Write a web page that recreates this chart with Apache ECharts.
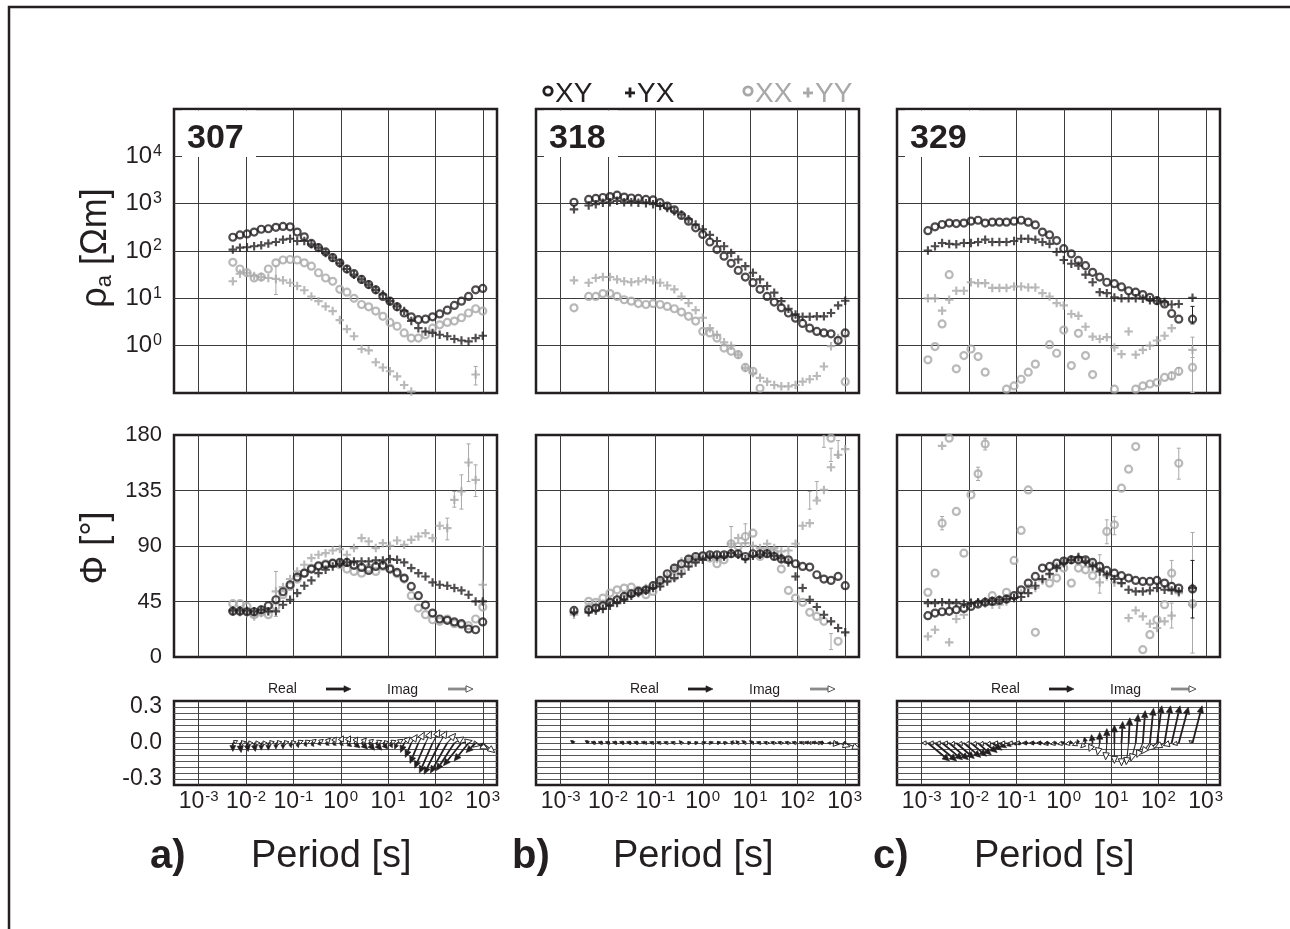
<!DOCTYPE html>
<html><head><meta charset="utf-8">
<script src="https://cdn.jsdelivr.net/npm/echarts@6/dist/echarts.min.js"></script>
<style>html,body{margin:0;padding:0;background:#fff}#c{width:1290px;height:929px}</style>
</head><body><div id="c"></div>
<script>
// ---------------- DATA (log10 of period in s; log10 of rho in Ohm.m; phase in degrees) ----------------
const stations = ['307', '318', '329'];
const panelLetters = ['a)', 'b)', 'c)'];
const rhoTickExps = [0, 1, 2, 3, 4];
const periodTickExps = [-3, -2, -1, 0, 1, 2, 3];
const phaseTicks = [0, 45, 90, 135, 180];
const tipperTickLabels = ['0.3', '0.0', '-0.3'];

// Station 307
const logT307 = [-2.28,-2.13,-1.98,-1.83,-1.68,-1.53,-1.37,-1.22,-1.07,-0.92,-0.77,-0.62,-0.47,-0.32,-0.17,-0.02,0.13,0.28,0.44,0.59,0.74,0.89,1.04,1.19,1.34,1.49,1.64,1.79,1.94,2.09,2.25,2.40,2.55,2.70,2.85,3.00];
const rhoXY307 = [2.29,2.34,2.36,2.40,2.46,2.47,2.50,2.52,2.51,2.40,2.30,2.16,2.07,1.98,1.86,1.75,1.62,1.52,1.40,1.29,1.18,1.04,0.94,0.82,0.69,0.61,0.55,0.56,0.61,0.67,0.75,0.85,0.94,1.04,1.18,1.21];
const rhoYX307 = [2.03,2.07,2.08,2.10,2.12,2.16,2.19,2.24,2.26,2.21,2.21,2.14,2.07,1.96,1.86,1.74,1.62,1.50,1.40,1.29,1.18,1.08,0.94,0.83,0.73,0.52,0.37,0.30,0.27,0.23,0.20,0.14,0.11,0.09,0.16,0.21];
const rhoXX307 = [1.76,1.62,1.54,1.43,1.45,1.62,1.75,1.81,1.82,1.81,1.75,1.68,1.54,1.43,1.36,1.19,1.13,1.00,0.87,0.82,0.73,0.62,0.49,0.41,0.27,0.16,0.16,0.23,0.37,0.44,0.49,0.52,0.59,0.69,0.78,0.73];
const rhoYY307 = [1.36,1.52,1.54,1.47,1.45,1.43,1.41,1.38,1.33,1.26,1.17,1.04,0.94,0.83,0.73,0.54,0.35,0.20,-0.07,-0.10,-0.35,-0.46,-0.54,-0.65,-0.83,-0.97,null,null,null,null,null,null,null,null,-0.61,null];
const phXY307 = [37.0,37.0,36.7,36.7,38.3,41.6,46.4,52.9,58.6,64.8,68.0,71.3,74.0,74.8,76.1,76.7,76.7,74.3,72.6,70.2,73.4,74.3,71.3,68.6,64.0,57.2,49.7,42.1,35.6,30.8,29.7,28.4,27.0,22.7,22.1,28.4];
const phYX307 = [37.8,37.8,37.5,37.0,38.3,37.0,37.0,42.4,46.4,51.8,57.8,62.1,68.0,70.7,73.4,75.6,76.7,77.5,77.5,77.5,78.3,78.3,79.4,78.8,76.7,72.1,68.0,65.3,60.5,58.6,57.8,55.9,54.0,50.5,45.1,45.1];
const phXX307 = [43.2,43.2,41.0,34.3,36.2,34.3,41.0,50.5,57.2,63.2,68.0,72.1,73.4,75.6,75.6,74.8,71.3,69.4,68.0,72.1,69.4,73.4,72.1,67.5,63.2,49.7,39.7,34.3,30.2,28.9,30.8,27.0,26.2,25.4,30.8,40.5];
const phYY307 = [37.0,36.2,35.6,32.9,35.6,37.0,53.2,56.7,63.2,69.4,74.8,80.2,82.9,84.2,86.4,87.5,82.9,88.3,96.4,93.7,88.3,92.3,90.2,94.5,91.0,95.0,97.7,100.4,96.4,106.4,104.5,127.4,134.2,157.7,143.6,58.6];
const rhoErrGray307 = [[-1.37,1.08,1.68],[2.85,-0.83,-0.44]];
const rhoErrBlack307 = [];
const phErrGray307 = [[-1.37,32.9,69.4],[2.25,95.0,112.6],[2.40,121.5,134.2],[2.55,119.9,147.7],[2.70,142.3,172.8],[2.85,130.1,155.8],[3.00,46.4,89.6]];
const phErrBlack307 = [];
const tipRealU307 = [0.00,0.01,0.01,0.01,0.00,0.00,0.00,0.00,0.01,0.01,0.02,0.02,0.02,0.03,0.03,0.03,0.04,0.05,0.05,0.05,0.05,0.04,0.02,-0.02,-0.03,-0.05,-0.07,-0.09,-0.11,-0.13,-0.14,-0.15,-0.15,-0.12,-0.08,-0.02];
const tipRealV307 = [-0.07,-0.08,-0.07,-0.07,-0.06,-0.06,-0.05,-0.05,-0.04,-0.04,-0.03,-0.03,-0.02,-0.02,-0.02,-0.02,-0.03,-0.04,-0.05,-0.06,-0.06,-0.05,-0.04,-0.05,-0.08,-0.12,-0.17,-0.21,-0.25,-0.26,-0.25,-0.23,-0.19,-0.15,-0.08,-0.03];
const tipImagU307 = [0.04,0.05,0.05,0.05,0.05,0.05,0.05,0.05,0.05,0.05,0.05,0.04,0.04,0.04,0.03,0.03,0.03,0.03,0.04,0.04,0.05,0.05,0.05,0.05,0.05,0.05,0.05,0.05,0.06,0.06,0.07,0.08,0.09,0.10,0.10,0.10];
const tipImagV307 = [0.02,0.01,0.00,0.00,0.00,0.01,0.01,0.01,0.01,0.02,0.02,0.03,0.03,0.04,0.05,0.06,0.06,0.05,0.04,0.03,0.02,0.01,0.02,0.03,0.05,0.07,0.09,0.10,0.11,0.10,0.08,0.05,0.02,-0.02,-0.05,-0.08];

// Station 318
const logT318 = [-2.72,-2.41,-2.26,-2.11,-1.96,-1.81,-1.66,-1.51,-1.36,-1.20,-1.05,-0.90,-0.75,-0.60,-0.45,-0.30,-0.15,0.00,0.15,0.30,0.45,0.60,0.75,0.90,1.06,1.21,1.36,1.51,1.66,1.81,1.96,2.11,2.26,2.41,2.56,2.71,2.86,3.01];
const rhoXY318 = [3.03,3.09,3.11,3.13,3.15,3.18,3.14,3.12,3.11,3.09,3.08,3.02,2.95,2.87,2.75,2.63,2.49,2.35,2.19,2.03,1.89,1.74,1.59,1.45,1.33,1.19,1.04,0.92,0.80,0.69,0.58,0.47,0.37,0.30,0.27,0.25,0.11,0.27];
const rhoYX318 = [2.88,2.96,2.99,3.02,3.03,3.06,3.03,3.03,3.02,3.01,2.99,2.95,2.91,2.84,2.77,2.67,2.56,2.46,2.34,2.21,2.10,1.96,1.82,1.68,1.54,1.40,1.26,1.12,0.94,0.78,0.66,0.61,0.61,0.62,0.62,0.69,0.85,0.95];
const rhoXX318 = [0.80,1.04,1.04,1.10,1.10,1.04,0.97,0.94,0.89,0.87,0.89,0.87,0.83,0.78,0.71,0.62,0.52,0.30,0.27,0.16,-0.05,-0.12,-0.19,-0.46,-0.54,-0.90,null,null,null,null,null,null,null,null,null,null,null,-0.76];
const rhoYY318 = [1.38,1.33,1.43,1.45,1.45,1.40,1.36,1.34,1.36,1.40,1.38,1.33,1.27,1.19,1.04,0.90,0.75,0.59,0.37,0.23,0.07,0.00,-0.19,-0.47,-0.58,-0.68,-0.76,-0.83,-0.86,-0.86,-0.83,-0.76,-0.71,-0.64,-0.44,-0.01,0.16,0.20];
const phXY318 = [37.8,38.3,39.7,41.6,44.3,46.4,49.1,51.3,53.2,54.5,57.8,62.1,67.5,72.1,75.6,79.4,81.5,82.1,82.9,82.9,82.9,83.7,83.7,81.5,83.7,83.7,83.7,81.5,79.4,78.8,75.6,73.4,72.9,66.7,63.2,62.1,65.3,57.8];
const phYX318 = [36.2,36.2,37.8,38.9,41.6,43.7,46.4,49.7,51.8,54.0,55.9,57.2,61.3,64.0,67.5,73.4,76.7,78.8,81.5,81.5,81.5,84.2,82.9,79.4,82.1,82.9,84.2,82.1,80.2,76.7,65.3,55.9,46.4,40.5,34.3,28.9,23.5,20.0];
const phXX318 = [null,45.1,44.3,47.8,51.8,54.5,55.9,56.7,54.0,50.5,53.2,59.9,63.2,65.3,69.4,75.6,78.8,81.5,80.2,75.6,78.8,91.8,89.6,97.7,100.4,81.5,85.6,84.2,71.3,54.0,47.8,44.3,36.2,32.9,28.9,177.4,12.7,null];
const phYY318 = [34.3,41.0,42.4,43.2,45.1,47.8,49.7,51.8,54.0,55.9,57.8,62.1,65.9,72.1,77.5,79.4,81.0,80.2,81.0,79.4,81.5,91.8,96.4,92.3,90.2,88.3,91.8,88.3,85.6,86.4,91.8,106.4,108.5,126.9,135.5,153.9,163.9,168.5];
const rhoErrGray318 = [];
const rhoErrBlack318 = [];
const phErrGray318 = [[0.60,86.9,105.8],[0.90,92.0,108.0],[2.26,119.9,134.2],[2.41,128.8,142.3],[2.56,170.0,180.0],[2.71,158.5,169.3],[2.71,6.0,19.0],[2.86,162.0,175.5]];
const phErrBlack318 = [];
const tipRealU318 = [-0.03,-0.03,-0.04,-0.04,-0.04,-0.04,-0.04,-0.04,-0.04,-0.04,-0.03,-0.03,-0.03,-0.03,-0.02,0.02,0.02,0.03,0.03,0.03,0.02,0.02,-0.02,-0.03,-0.03,-0.03,-0.03,-0.03,-0.03,-0.03,-0.03,-0.03,-0.04,-0.04,-0.04,-0.03,-0.03,-0.02];
const tipRealV318 = [0.02,0.02,0.01,0.01,0.01,0.01,0.01,0.01,0.01,0.01,0.01,0.01,0.01,0.01,0.02,0.01,0.01,0.01,0.01,0.01,0.01,0.02,0.02,0.02,0.02,0.01,0.01,0.01,0.01,0.01,0.01,0.01,0.01,0.01,0.01,0.00,0.00,0.00];
const tipImagU318 = [-0.02,-0.02,-0.03,-0.03,-0.03,-0.03,-0.03,-0.03,-0.03,-0.02,-0.02,-0.02,-0.02,-0.02,0.02,0.02,0.02,0.02,0.02,0.03,0.03,0.03,-0.02,-0.02,-0.02,-0.02,0.02,0.02,0.02,0.02,0.02,0.03,0.03,0.04,-0.04,0.07,0.10,0.12];
const tipImagV318 = [0.02,0.02,0.00,0.00,0.00,0.00,0.00,0.00,0.00,0.00,0.00,0.00,0.00,0.00,0.00,0.00,0.00,0.00,0.00,0.00,0.00,0.00,0.00,0.00,0.00,0.00,0.00,0.00,0.00,0.00,0.00,0.00,0.00,0.00,0.00,-0.01,-0.03,-0.05];

// Station 329
const logT329 = [-2.87,-2.72,-2.57,-2.42,-2.27,-2.11,-1.96,-1.81,-1.66,-1.51,-1.36,-1.21,-1.05,-0.90,-0.75,-0.60,-0.45,-0.30,-0.15,0.00,0.16,0.31,0.46,0.61,0.76,0.91,1.07,1.22,1.37,1.52,1.67,1.82,1.97,2.13,2.28,2.43,2.72];
const rhoXY329 = [2.43,2.51,2.56,2.59,2.58,2.59,2.63,2.65,2.59,2.61,2.61,2.61,2.63,2.65,2.61,2.55,2.40,2.34,2.22,2.05,1.94,1.80,1.69,1.55,1.45,1.34,1.31,1.24,1.16,1.13,1.08,1.02,0.95,0.88,0.68,0.56,0.56];
const rhoYX329 = [2.01,2.10,2.17,2.15,2.14,2.17,2.17,2.19,2.24,2.19,2.19,2.19,2.21,2.26,2.26,2.24,2.19,2.15,1.98,1.81,1.73,1.69,1.50,1.34,1.13,1.11,1.02,1.00,1.00,1.00,0.99,0.96,0.95,0.92,0.87,0.88,1.01];
const rhoXX329 = [-0.30,-0.02,0.46,1.50,-0.49,-0.21,-0.07,-0.23,-0.56,null,null,-0.92,-0.85,-0.71,-0.56,-0.39,null,0.02,-0.16,0.33,-0.42,0.26,-0.21,-0.61,null,null,-0.92,null,null,-0.92,-0.85,-0.81,-0.78,-0.67,-0.64,-0.54,-0.46];
const rhoYY329 = [1.00,1.00,0.74,0.97,1.16,1.16,1.34,1.32,1.32,1.22,1.22,1.22,1.25,1.25,1.23,1.23,1.11,1.04,0.90,0.85,0.67,0.63,0.40,0.19,0.14,0.18,-0.04,-0.18,0.30,-0.19,-0.09,0.00,0.11,0.21,0.37,null,-0.09];
const phXY329 = [33.5,35.6,36.7,37.0,38.3,39.4,41.0,42.9,44.3,45.1,45.9,47.0,49.7,54.5,59.9,65.3,72.1,73.4,76.1,77.8,78.8,78.8,78.8,76.7,73.4,70.2,68.0,65.9,64.0,62.1,61.3,61.3,62.1,59.9,57.2,55.9,55.1];
const phYX329 = [43.7,43.7,44.3,43.7,43.7,43.2,43.7,44.3,45.1,45.6,46.4,47.0,47.8,48.6,51.8,57.8,63.2,67.5,72.1,76.1,78.8,81.0,77.5,73.4,69.4,66.7,63.2,59.9,54.5,53.2,53.2,54.0,55.9,54.5,54.0,53.2,55.9];
const phXX329 = [52.4,68.0,108.5,177.4,118.0,84.2,131.5,148.5,172.8,49.7,null,52.4,78.3,102.6,135.5,20.0,null,59.9,64.0,72.1,59.9,72.1,70.7,65.9,73.4,101.8,107.2,136.9,152.3,170.6,5.9,18.1,30.2,42.4,68.0,157.1,43.2];
const phYY329 = [16.7,22.1,171.2,11.9,30.8,34.3,44.3,43.7,43.2,42.4,42.4,45.1,47.8,51.8,55.9,55.9,62.1,66.7,73.4,77.5,78.8,80.2,76.7,74.8,60.5,65.3,60.5,59.9,31.6,37.8,32.9,27.0,23.5,28.9,33.5,51.8,42.4];
const rhoErrGray329 = [[2.72,-0.99,0.18],[2.72,-0.99,-0.25],[2.28,-0.72,-0.56],[2.43,-0.62,-0.46]];
const rhoErrBlack329 = [[2.72,0.46,0.83]];
const phErrGray329 = [[2.72,3.2,101.0],[-2.57,103.1,113.9],[-1.81,143.1,153.9],[-1.66,167.9,177.4],[0.91,91.8,111.2],[1.07,99.1,113.9],[2.28,59.9,78.3],[2.43,144.2,169.3],[0.76,51.8,82.9],[2.28,23.5,43.7]];
const phErrBlack329 = [[2.72,31.6,78.3]];
const tipRealU329 = [0.18,0.18,0.17,0.16,0.15,0.14,0.13,0.11,0.10,0.08,0.06,0.04,0.02,-0.03,-0.04,-0.04,-0.04,-0.04,-0.03,-0.02,-0.01,-0.01,-0.01,-0.01,0.00,0.00,0.00,0.01,0.01,0.02,0.02,0.03,0.04,0.05,0.07,0.08,0.08];
const tipRealV329 = [-0.15,-0.15,-0.14,-0.14,-0.13,-0.12,-0.11,-0.10,-0.08,-0.06,-0.04,-0.03,-0.02,-0.01,0.00,0.00,0.00,0.00,0.00,0.01,0.02,0.03,0.05,0.07,0.09,0.12,0.15,0.18,0.21,0.24,0.27,0.29,0.31,0.31,0.31,0.30,0.31];
const tipImagU329 = [-0.05,-0.05,-0.05,-0.05,-0.05,-0.05,-0.05,-0.05,-0.05,-0.05,-0.05,-0.05,-0.05,-0.05,-0.05,-0.05,-0.05,-0.05,-0.05,-0.05,-0.05,-0.05,-0.04,-0.03,-0.02,-0.01,0.00,0.00,-0.02,-0.04,-0.05,-0.07,-0.08,-0.08,-0.07,-0.05,-0.03];
const tipImagV329 = [0.00,0.00,0.00,0.00,-0.01,-0.01,-0.01,-0.01,-0.01,-0.01,0.00,0.00,0.00,0.00,0.00,0.00,0.00,-0.01,-0.01,-0.01,-0.01,-0.02,-0.04,-0.07,-0.10,-0.14,-0.17,-0.19,-0.18,-0.15,-0.12,-0.09,-0.06,-0.04,-0.02,-0.01,0.02];

// ---------------- CHART ----------------
const FONT = '"Liberation Sans", Arial, Helvetica, sans-serif';
const BLACK = '#231f20', GRAY = '#a8a8a8', GRID = '#3c3c3c';
const colLeft = [174, 536, 897], colW = 323;
const rowBox = [{top: 109, h: 284}, {top: 435, h: 222}, {top: 701, h: 84}];

const st = [
  {logT: logT307, rho: [rhoXY307, rhoYX307, rhoXX307, rhoYY307], ph: [phXY307, phYX307, phXX307, phYY307],
   rhoErr: [rhoErrGray307, rhoErrBlack307], phErr: [phErrGray307, phErrBlack307],
   tip: [tipRealU307, tipRealV307, tipImagU307, tipImagV307]},
  {logT: logT318, rho: [rhoXY318, rhoYX318, rhoXX318, rhoYY318], ph: [phXY318, phYX318, phXX318, phYY318],
   rhoErr: [rhoErrGray318, rhoErrBlack318], phErr: [phErrGray318, phErrBlack318],
   tip: [tipRealU318, tipRealV318, tipImagU318, tipImagV318]},
  {logT: logT329, rho: [rhoXY329, rhoYX329, rhoXX329, rhoYY329], ph: [phXY329, phYX329, phXX329, phYY329],
   rhoErr: [rhoErrGray329, rhoErrBlack329], phErr: [phErrGray329, phErrBlack329],
   tip: [tipRealU329, tipRealV329, tipImagU329, tipImagV329]}
];

const PLUS = 'path://M3,0H5V3H8V5H5V8H3V5H0V3H3Z';
const grids = [], xAxes = [], yAxes = [], series = [];

function near(v, t) { return Math.abs(v - t) < 1e-6 * Math.max(1, Math.abs(t)); }
function expLabel(v, allowed) {
  const e = Math.round(Math.log10(v));
  if (!near(Math.log10(v), e) || allowed.indexOf(e) < 0) return '';
  return '{b|10}{s|' + e + '}';
}

for (let r = 0; r < 3; r++) {
  for (let c = 0; c < 3; c++) {
    const gi = r * 3 + c;
    grids.push({left: colLeft[c], top: rowBox[r].top, width: colW, height: rowBox[r].h,
      show: true, borderColor: BLACK, borderWidth: 2.5, backgroundColor: 'transparent', outerBoundsMode: 'none'});
    xAxes.push({type: 'log', logBase: 10, gridIndex: gi, min: 3e-4, max: 2000,
      axisLine: {show: false}, axisTick: {show: false},
      splitLine: {show: true, showMinLine: false, showMaxLine: false, lineStyle: {color: GRID, width: 1}},
      axisLabel: r === 2 ? {show: true, margin: 4, color: BLACK, interval: 0,
        formatter: v => expLabel(v, periodTickExps),
        rich: {b: {fontSize: 23, fontFamily: FONT, color: BLACK, lineHeight: 25},
               s: {fontSize: 15, fontFamily: FONT, color: BLACK, verticalAlign: 'top', lineHeight: 25, padding: [0, 0, 10, 1]}}}
        : {show: false}});
    let y;
    if (r === 0) {
      y = {type: 'log', logBase: 10, min: 0.1, max: 1e5,
        axisLabel: c === 0 ? {show: true, margin: 12, color: BLACK,
          formatter: v => expLabel(v, rhoTickExps),
          rich: {b: {fontSize: 24, fontFamily: FONT, color: BLACK, lineHeight: 26},
                 s: {fontSize: 16, fontFamily: FONT, color: BLACK, verticalAlign: 'top', lineHeight: 26, padding: [0, 0, 13, 1]}}}
          : {show: false}};
    } else if (r === 1) {
      y = {type: 'value', min: 0, max: 180, interval: 45,
        axisLabel: c === 0 ? {show: true, margin: 12, color: BLACK, fontSize: 22, fontFamily: FONT,
          formatter: v => (phaseTicks.indexOf(v) >= 0 ? String(v) : '')} : {show: false}};
    } else {
      y = {type: 'value', min: -0.35, max: 0.35, interval: 0.05,
        axisLabel: c === 0 ? {show: true, margin: 12, color: BLACK, fontSize: 23, fontFamily: FONT,
          formatter: v => (near(v, 0.3) ? tipperTickLabels[0] : near(v, 0) ? tipperTickLabels[1] : near(v, -0.3) ? tipperTickLabels[2] : '')}
          : {show: false}};
    }
    y.gridIndex = gi;
    y.axisLine = {show: false}; y.axisTick = {show: false};
    y.splitLine = {show: true, showMinLine: false, showMaxLine: false, lineStyle: {color: r === 2 ? '#555' : GRID, width: 1}};
    yAxes.push(y);
  }
}

function toPts(logT, vals, logY) {
  const out = [];
  for (let i = 0; i < logT.length; i++) {
    if (vals[i] === null || vals[i] === undefined) continue;
    out.push([Math.pow(10, logT[i]), logY ? Math.pow(10, vals[i]) : vals[i]]);
  }
  return out;
}
function scatter(gi, data, kind, color, z) {
  const s = {type: 'scatter', xAxisIndex: gi, yAxisIndex: gi, data: data, z: z, animation: false, silent: true, clip: true};
  if (kind === 'o') {
    s.symbol = 'circle'; s.symbolSize = 7;
    s.itemStyle = {color: 'rgba(255,255,255,0)', borderColor: color, borderWidth: 2.2};
  } else {
    s.symbol = PLUS; s.symbolSize = 8.5; s.itemStyle = {color: color};
  }
  return s;
}
function errSeries(gi, list, logY, color, z) {
  const data = list.map(e => [Math.pow(10, e[0]), logY ? Math.pow(10, e[1]) : e[1], logY ? Math.pow(10, e[2]) : e[2]]);
  return {type: 'custom', xAxisIndex: gi, yAxisIndex: gi, data: data, z: z, clip: true, silent: true, animation: false,
    encode: {x: 0, y: [1, 2]},
    renderItem: (p, api) => {
      const a = api.coord([api.value(0), api.value(1)]), b = api.coord([api.value(0), api.value(2)]);
      const ls = {stroke: color, lineWidth: 1};
      return {type: 'group', children: [
        {type: 'line', shape: {x1: a[0], y1: a[1], x2: b[0], y2: b[1]}, style: ls},
        {type: 'line', shape: {x1: a[0] - 2, y1: a[1], x2: a[0] + 2, y2: a[1]}, style: ls},
        {type: 'line', shape: {x1: b[0] - 2, y1: b[1], x2: b[0] + 2, y2: b[1]}, style: ls}]};
    }};
}
function arrowEls(x0, y0, x1, y1, filled, color, shaftColor, shaftW) {
  const dx = x1 - x0, dy = y1 - y0, L = Math.hypot(dx, dy);
  if (L < 0.5) return [];
  const ux = dx / L, uy = dy / L, hl = Math.min(7, Math.max(L * 0.7, 3)), hw = Math.min(3.2, hl * 0.5);
  const bx = x1 - ux * hl, by = y1 - uy * hl;
  return [
    {type: 'line', shape: {x1: x0, y1: y0, x2: bx, y2: by}, style: {stroke: shaftColor || color, lineWidth: shaftW || (filled ? 1.8 : 1.1)}},
    {type: 'polygon', shape: {points: [[x1, y1], [bx - uy * hw, by + ux * hw], [bx + uy * hw, by - ux * hw]]},
     style: {fill: filled ? color : '#fff', stroke: color, lineWidth: filled ? 0.6 : 1}}
  ];
}
function tipSeries(gi, logT, tip) {
  const data = logT.map((t, i) => [Math.pow(10, t), tip[0][i], tip[1][i], tip[2][i], tip[3][i]]);
  return {type: 'custom', xAxisIndex: gi, yAxisIndex: gi, data: data, z: 5, clip: false, silent: true, animation: false,
    encode: {x: 0, y: 1},
    renderItem: (p, api) => {
      const T = api.value(0);
      const o = api.coord([T, 0]);
      const unit = (o[1] - api.coord([T, 0.1])[1]) * 10;
      const ru = api.value(1), rv = api.value(2), iu = api.value(3), iv = api.value(4);
      const els = [].concat(
        arrowEls(o[0], o[1], o[0] + iu * unit, o[1] - iv * unit, false, '#2a2a2a'),
        arrowEls(o[0], o[1], o[0] + ru * unit, o[1] - rv * unit, true, BLACK));
      return {type: 'group', children: els};
    }};
}

for (let c = 0; c < 3; c++) {
  const S = st[c];
  const g1 = c, g2 = 3 + c, g3 = 6 + c;
  series.push(scatter(g1, toPts(S.logT, S.rho[2], true), 'o', GRAY, 2));
  series.push(scatter(g1, toPts(S.logT, S.rho[3], true), '+', GRAY, 2));
  series.push(errSeries(g1, S.rhoErr[0], true, GRAY, 2));
  series.push(scatter(g1, toPts(S.logT, S.rho[0], true), 'o', BLACK, 3));
  series.push(scatter(g1, toPts(S.logT, S.rho[1], true), '+', BLACK, 3));
  series.push(errSeries(g1, S.rhoErr[1], true, BLACK, 3));
  series.push(scatter(g2, toPts(S.logT, S.ph[2], false), 'o', GRAY, 2));
  series.push(scatter(g2, toPts(S.logT, S.ph[3], false), '+', GRAY, 2));
  series.push(errSeries(g2, S.phErr[0], false, GRAY, 2));
  series.push(scatter(g2, toPts(S.logT, S.ph[0], false), 'o', BLACK, 3));
  series.push(scatter(g2, toPts(S.logT, S.ph[1], false), '+', BLACK, 3));
  series.push(errSeries(g2, S.phErr[1], false, BLACK, 3));
  series.push(tipSeries(g3, S.logT, S.tip));
}

// ---------------- annotations ----------------
const graphics = [];
graphics.push({type: 'polyline', z: 10, shape: {points: [[9, 929], [9, 7], [1290, 7]]}, style: {stroke: BLACK, lineWidth: 2.5, fill: null}});
const legendItems = [
  {sym: 'o', cx: 548, tx: 555, label: 'XY', color: BLACK},
  {sym: '+', cx: 630, tx: 637, label: 'YX', color: BLACK},
  {sym: 'o', cx: 748, tx: 755, label: 'XX', color: GRAY},
  {sym: '+', cx: 808, tx: 815, label: 'YY', color: GRAY}
];
legendItems.forEach(it => {
  if (it.sym === 'o') graphics.push({type: 'circle', z: 10, shape: {cx: it.cx, cy: 91, r: 4.2}, style: {stroke: it.color, lineWidth: 2.8, fill: null}});
  else {
    graphics.push({type: 'rect', z: 10, shape: {x: it.cx - 5, y: 91.5, width: 10, height: 2.8}, style: {fill: it.color}});
    graphics.push({type: 'rect', z: 10, shape: {x: it.cx - 1.4, y: 87.5, width: 2.8, height: 10}, style: {fill: it.color}});
  }
  graphics.push({type: 'text', z: 10, x: it.tx, y: 94, style: {text: it.label, fontFamily: FONT, fontSize: 28, fill: it.color, align: 'left', verticalAlign: 'middle'}});
});
for (let c = 0; c < 3; c++) {
  graphics.push({type: 'rect', z: 5, shape: {x: colLeft[c] + 8, y: rowBox[0].top + 1.5, width: 74, height: 46.5}, style: {fill: '#fff'}});
  graphics.push({type: 'text', z: 6, x: colLeft[c] + 13, y: rowBox[0].top + 30, style: {text: stations[c], fontFamily: FONT, fontSize: 34, fontWeight: 'bold', fill: BLACK, align: 'left', verticalAlign: 'middle'}});
  graphics.push({type: 'text', z: 6, x: colLeft[c] - 24, y: 857, style: {text: panelLetters[c], fontFamily: FONT, fontSize: 40, fontWeight: 'bold', fill: BLACK, align: 'left', verticalAlign: 'middle'}});
  graphics.push({type: 'text', z: 6, x: colLeft[c] + 77, y: 857, style: {text: 'Period [s]', fontFamily: FONT, fontSize: 38, fill: BLACK, align: 'left', verticalAlign: 'middle'}});
  const L = colLeft[c];
  graphics.push({type: 'text', z: 6, x: L + 94, y: 689, style: {text: 'Real', fontFamily: FONT, fontSize: 14, fill: BLACK, align: 'left', verticalAlign: 'middle'}});
  graphics.push({type: 'text', z: 6, x: L + 213, y: 690, style: {text: 'Imag', fontFamily: FONT, fontSize: 14, fill: BLACK, align: 'left', verticalAlign: 'middle'}});
  arrowEls(L + 152, 689, L + 177, 689, true, BLACK, BLACK, 2.8).forEach(e => { e.z = 6; graphics.push(e); });
  arrowEls(L + 274, 689, L + 299, 689, false, '#555', '#8a8a8a', 2.8).forEach(e => { e.z = 6; graphics.push(e); });
}
graphics.push({type: 'text', z: 6, x: 96, y: 248, rotation: Math.PI / 2,
  style: {text: '{r|ρ}{s|a}{r| [Ωm]}', align: 'center', verticalAlign: 'middle',
    rich: {r: {fontFamily: FONT, fontSize: 36, fill: BLACK, color: BLACK, lineHeight: 40},
           s: {fontFamily: FONT, fontSize: 22, fill: BLACK, color: BLACK, verticalAlign: 'bottom', lineHeight: 40, padding: [12, 0, 0, 0]}}}});
graphics.push({type: 'text', z: 6, x: 96, y: 548, rotation: Math.PI / 2,
  style: {text: 'Φ [°]', fontFamily: FONT, fontSize: 36, fill: BLACK, align: 'center', verticalAlign: 'middle'}});

const chart = echarts.init(document.getElementById('c'), null, {renderer: 'canvas'});
chart.setOption({
  animation: false, backgroundColor: '#fff',
  grid: grids, xAxis: xAxes, yAxis: yAxes, series: series, graphic: {elements: graphics}
});
</script></body></html>
